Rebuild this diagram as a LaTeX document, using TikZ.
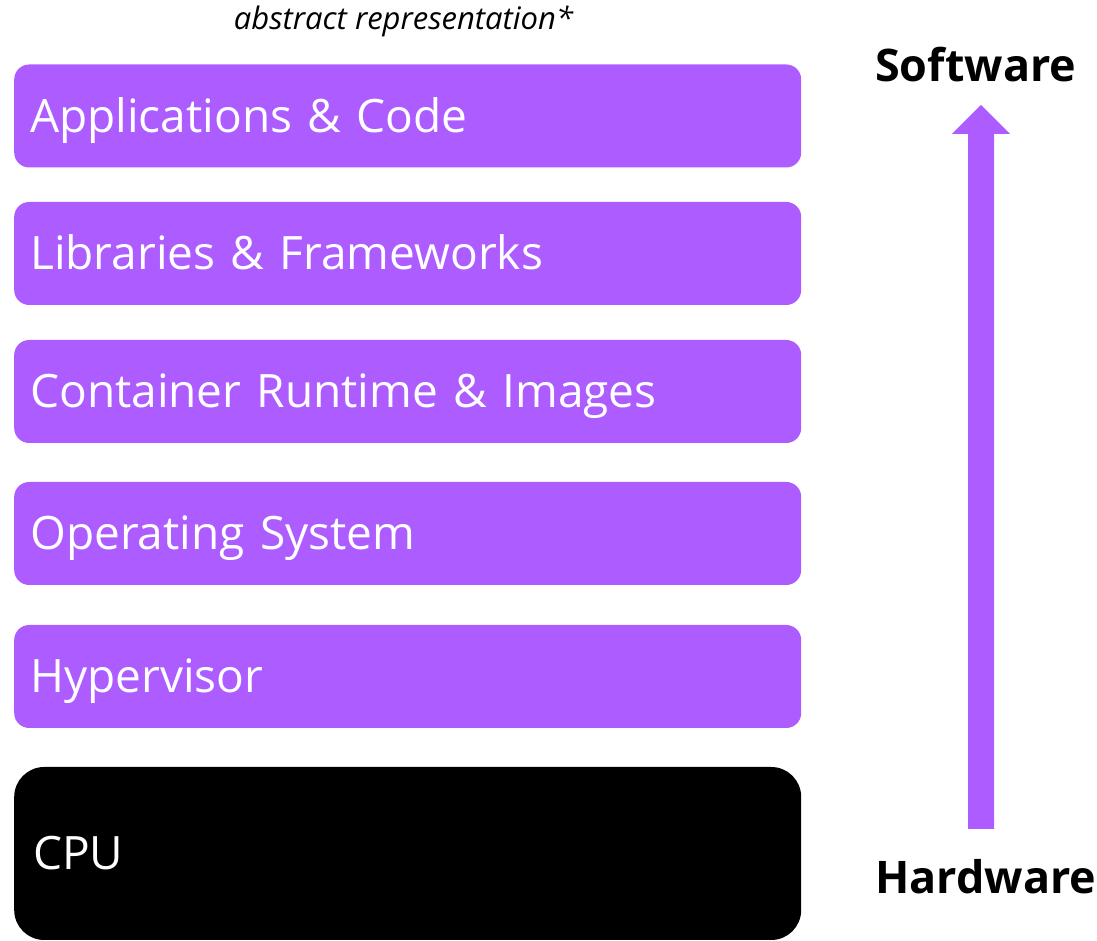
\documentclass[tikz,border=0pt]{standalone}
\usepackage{fontspec}
\setmainfont{Open Sans}
\definecolor{layerpurple}{HTML}{AD5CFF}
\begin{document}
\begin{tikzpicture}[x=1pt,y=1pt,
  layer/.style={fill=layerpurple, draw=none, rounded corners=15pt, minimum width=787pt, minimum height=103pt,
    inner xsep=16pt, inner ysep=0pt, text width=755pt, align=left, text=white,
    font=\fontsize{46}{52}\selectfont, text height=33pt, text depth=0pt, anchor=west},
  sidelabel/.style={font=\fontsize{44.9}{50}\selectfont\bfseries, text height=34pt, text depth=0pt, inner sep=0pt}]
\useasboundingbox (0,0) rectangle (1097,941);
\node[font=\fontsize{31}{35}\selectfont\itshape, anchor=base, inner sep=0pt] (note) at (403.5,911) {abstract representation*};
\node[layer] (app) at (14,825) {Applications \& Code};
\node[layer] (lib) at (14,687.5) {Libraries \& Frameworks};
\node[layer] (cont) at (14,549.5) {Container Runtime \& Images};
\node[layer] (os) at (14,407.5) {Operating System};
\node[layer] (hyp) at (14,264.5) {Hypervisor};
\node[layer, fill=black, rounded corners=30pt, minimum height=173pt, inner xsep=19pt, text width=749pt] (cpu) at (14,87.5) {CPU};
\node[sidelabel, anchor=west] (sw) at (875,876) {Software};
\node[sidelabel, anchor=west] (hw) at (875,64) {Hardware};
\coordinate (tail) at (981,112);
\coordinate (tip) at (981,836);
\fill[layerpurple] ([xshift=-13pt]tail) -- ([xshift=-13pt,yshift=-29pt]tip) -- ([xshift=-29pt,yshift=-29pt]tip) -- (tip)
  -- ([xshift=29pt,yshift=-29pt]tip) -- ([xshift=13pt,yshift=-29pt]tip) -- ([xshift=13pt]tail) -- cycle;
\end{tikzpicture}
\end{document}
